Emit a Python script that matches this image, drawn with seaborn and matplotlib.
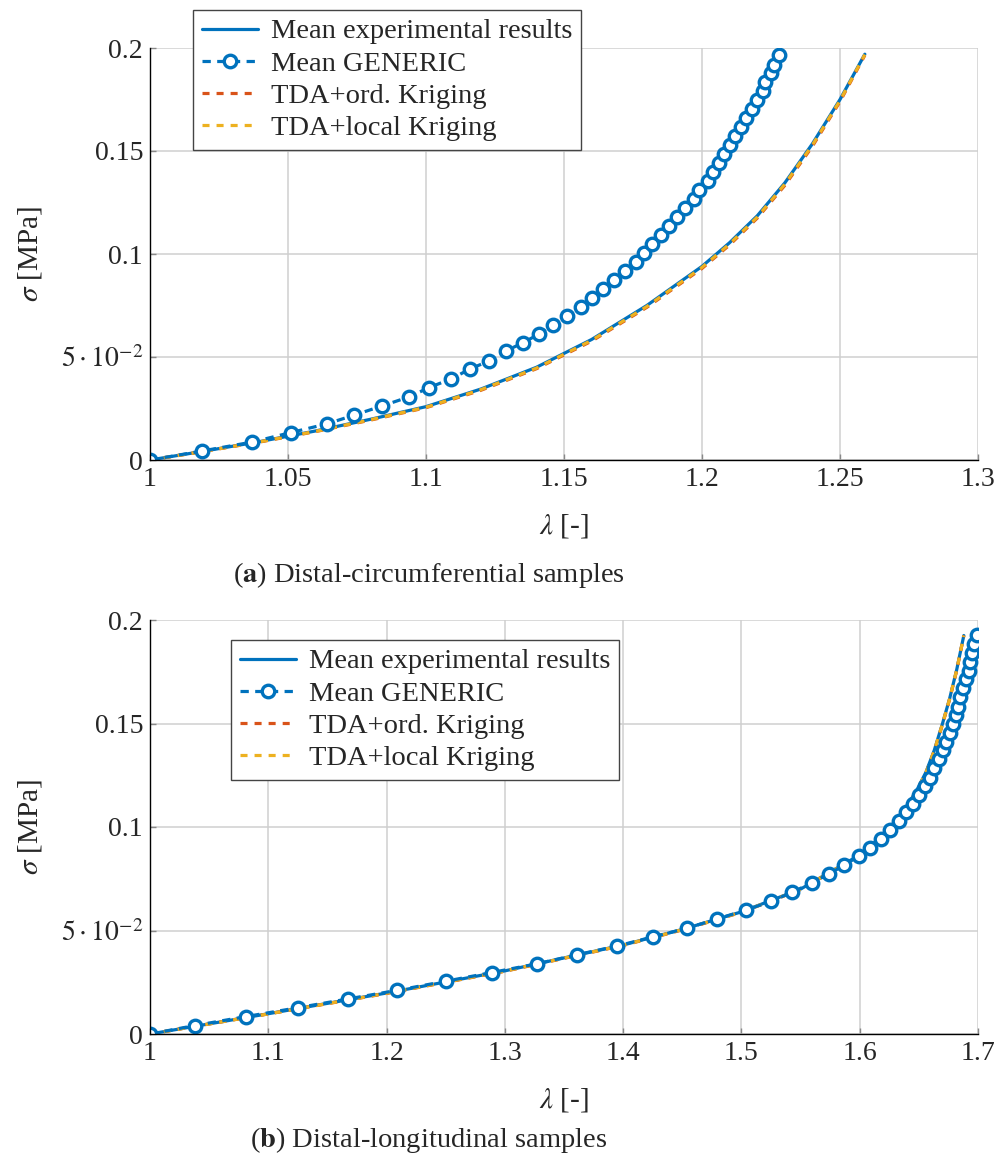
import numpy as np
import pandas as pd
import matplotlib
matplotlib.use("Agg")
import matplotlib.pyplot as plt
import seaborn as sns
from matplotlib.ticker import FixedLocator, FixedFormatter

# ---------------- data ----------------
# (a) Distal-circumferential
a_exp_x = [1.00, 1.02, 1.04, 1.06, 1.08, 1.10, 1.12, 1.14, 1.16, 1.18, 1.20, 1.21, 1.22, 1.23, 1.24, 1.25, 1.259]
a_exp_y = [0.000, 0.0044, 0.0090, 0.0141, 0.0198, 0.0259, 0.0345, 0.0450, 0.0585, 0.0750, 0.0940, 0.1055, 0.1185, 0.1345, 0.1535, 0.1750, 0.1970]
a_ord_x = [1.00, 1.02, 1.04, 1.06, 1.08, 1.10, 1.12, 1.14, 1.16, 1.18, 1.20, 1.21, 1.22, 1.23, 1.24, 1.25, 1.259]
a_ord_y = [0.000, 0.0043, 0.0088, 0.0138, 0.0194, 0.0254, 0.0339, 0.0443, 0.0577, 0.0741, 0.0930, 0.1044, 0.1174, 0.1333, 0.1523, 0.1740, 0.1965]
a_loc_x = [1.00, 1.02, 1.04, 1.06, 1.08, 1.10, 1.12, 1.14, 1.16, 1.18, 1.20, 1.21, 1.22, 1.23, 1.24, 1.25, 1.259]
a_loc_y = [0.000, 0.0043, 0.0089, 0.0139, 0.0196, 0.0256, 0.0342, 0.0446, 0.0581, 0.0745, 0.0935, 0.1049, 0.1179, 0.1339, 0.1529, 0.1745, 0.1968]
a_gen_x = [1.000, 1.019, 1.037, 1.051, 1.064, 1.074, 1.084, 1.094, 1.101, 1.109, 1.116, 1.123,
           1.129, 1.135, 1.141, 1.146, 1.151, 1.156, 1.160, 1.164, 1.168, 1.172, 1.176, 1.179,
           1.182, 1.185, 1.188, 1.191, 1.194, 1.197, 1.199, 1.202, 1.204, 1.206, 1.208, 1.210,
           1.212, 1.214, 1.216, 1.218, 1.220, 1.222, 1.223, 1.225, 1.226, 1.228]
a_gen_y = [0.000, 0.0044, 0.0087, 0.0133, 0.0175, 0.0218, 0.0262, 0.0307, 0.0351, 0.0393, 0.0442, 0.0482,
           0.0530, 0.0568, 0.0612, 0.0655, 0.0699, 0.0741, 0.0786, 0.0830, 0.0874, 0.0917, 0.0961, 0.1005,
           0.1049, 0.1092, 0.1136, 0.1180, 0.1223, 0.1267, 0.1311, 0.1354, 0.1396, 0.1440, 0.1485, 0.1529,
           0.1573, 0.1615, 0.1660, 0.1702, 0.1748, 0.1790, 0.1833, 0.1877, 0.1919, 0.1966]

# (b) Distal-longitudinal
b_exp_x = [1.000, 1.100, 1.200, 1.300, 1.400, 1.450, 1.500, 1.550, 1.600, 1.613, 1.626, 1.638, 1.648, 1.656, 1.663, 1.670, 1.676, 1.682, 1.688]
b_exp_y = [0.000, 0.0098, 0.0198, 0.0305, 0.0430, 0.0505, 0.0590, 0.0700, 0.0865, 0.0928, 0.1000, 0.1085, 0.1175, 0.1265, 0.1370, 0.1500, 0.1620, 0.1760, 0.1925]
b_ord_x = [1.000, 1.100, 1.200, 1.300, 1.400, 1.450, 1.500, 1.550, 1.600, 1.613, 1.626, 1.638, 1.648, 1.656, 1.663, 1.670, 1.676, 1.682, 1.688]
b_ord_y = [0.000, 0.0097, 0.0196, 0.0303, 0.0428, 0.0503, 0.0588, 0.0698, 0.0863, 0.0926, 0.0997, 0.1082, 0.1171, 0.1261, 0.1366, 0.1496, 0.1617, 0.1757, 0.1925]
b_loc_x = [1.000, 1.100, 1.200, 1.300, 1.400, 1.450, 1.500, 1.550, 1.600, 1.613, 1.626, 1.638, 1.648, 1.656, 1.663, 1.670, 1.676, 1.682, 1.688]
b_loc_y = [0.000, 0.0097, 0.0197, 0.0304, 0.0429, 0.0504, 0.0589, 0.0699, 0.0864, 0.0927, 0.0999, 0.1084, 0.1173, 0.1263, 0.1368, 0.1498, 0.1619, 0.1759, 0.1925]
b_gen_x = [1.000, 1.038, 1.081, 1.125, 1.167, 1.209, 1.250, 1.289, 1.327, 1.361, 1.395, 1.425,
           1.454, 1.479, 1.504, 1.525, 1.543, 1.560, 1.574, 1.587, 1.599, 1.609, 1.618, 1.626,
           1.633, 1.639, 1.645, 1.650, 1.655, 1.659, 1.663, 1.667, 1.670, 1.673, 1.676, 1.679,
           1.681, 1.683, 1.685, 1.687, 1.690, 1.692, 1.693, 1.695, 1.697, 1.699]
b_gen_y = [0.000, 0.0041, 0.0084, 0.0127, 0.0169, 0.0211, 0.0255, 0.0297, 0.0339, 0.0383, 0.0425, 0.0469,
           0.0511, 0.0555, 0.0599, 0.0641, 0.0685, 0.0731, 0.0774, 0.0815, 0.0860, 0.0900, 0.0944, 0.0985,
           0.1029, 0.1073, 0.1113, 0.1155, 0.1198, 0.1239, 0.1284, 0.1327, 0.1371, 0.1413, 0.1456, 0.1497,
           0.1540, 0.1582, 0.1626, 0.1671, 0.1715, 0.1755, 0.1798, 0.1840, 0.1884, 0.1929]

labels = ["Mean experimental results", "Mean GENERIC", "TDA+ord. Kriging", "TDA+local Kriging"]
y_ticks = [0, 0.05, 0.1, 0.15, 0.2]
y_ticklabels = ["0", r"$5\cdot10^{-2}$", "0.1", "0.15", "0.2"]
a_xticks = [1, 1.05, 1.1, 1.15, 1.2, 1.25, 1.3]
a_xticklabels = ["1", "1.05", "1.1", "1.15", "1.2", "1.25", "1.3"]
b_xticks = [1, 1.1, 1.2, 1.3, 1.4, 1.5, 1.6, 1.7]
b_xticklabels = ["1", "1.1", "1.2", "1.3", "1.4", "1.5", "1.6", "1.7"]

BLUE = "#0072BD"
ORANGE = "#D95319"
YELLOW = "#EDB120"

# ---------------- style ----------------
sns.set_style("white")
plt.rcParams["font.family"] = ["Liberation Serif", "DejaVu Serif"]
plt.rcParams["mathtext.fontset"] = "stix"
FS = 20
LFS = 20.5

fig = plt.figure(figsize=(9.97, 11.62), dpi=100)
ax1 = fig.add_axes([150/997, 1-460/1162, 828/997, 412/1162])
ax2 = fig.add_axes([150/997, 1-1034/1162, 828/997, 414/1162])


def draw(ax, ex, ey, gx, gy, ox, oy, lx, ly, xt, xtl, xlim, leg_anchor):
    sns.lineplot(x=ex, y=ey, ax=ax, color=BLUE, linewidth=2.3, sort=False, zorder=2)
    sns.lineplot(x=ox, y=oy, ax=ax, color=ORANGE, linewidth=2.3, sort=False, zorder=3)
    ax.lines[-1].set_dashes((2.2, 2.2))
    sns.lineplot(x=lx, y=ly, ax=ax, color=YELLOW, linewidth=2.3, sort=False, zorder=4)
    ax.lines[-1].set_dashes((2.2, 2.2))
    sns.lineplot(x=gx, y=gy, ax=ax, color=BLUE, linewidth=2.3, sort=False, zorder=5,
                 marker="o", markersize=9, markerfacecolor="white",
                 markeredgecolor=BLUE, markeredgewidth=2.4)
    ax.lines[-1].set_dashes((2.6, 2.0))
    l_exp, l_ord, l_loc, l_gen = ax.lines[0], ax.lines[1], ax.lines[2], ax.lines[3]

    ax.set_xlim(*xlim)
    ax.set_ylim(0, 0.2)
    ax.xaxis.set_major_locator(FixedLocator(xt))
    ax.xaxis.set_major_formatter(FixedFormatter(xtl))
    ax.yaxis.set_major_locator(FixedLocator(y_ticks))
    ax.yaxis.set_major_formatter(FixedFormatter(y_ticklabels))
    ax.grid(True, color="#cfcfcf", linewidth=1.1)
    ax.set_axisbelow(True)
    for s in ["top", "right"]:
        ax.spines[s].set_visible(False)
    for s in ["left", "bottom"]:
        ax.spines[s].set_visible(True)
        ax.spines[s].set_color("black")
        ax.spines[s].set_linewidth(1.0)
        ax.spines[s].set_zorder(6)
    ax.tick_params(direction="in", length=4, width=1, color="#888888",
                   labelsize=FS, pad=5, left=True, bottom=True)
    ax.set_xlabel(r"$\lambda$ [-]", fontsize=FS + 1)
    ax.set_ylabel(r"$\sigma$ [MPa]", fontsize=FS + 1)

    leg = ax.legend([l_exp, l_gen, l_ord, l_loc], labels, loc="upper left",
                    bbox_to_anchor=leg_anchor, fontsize=LFS, frameon=True,
                    fancybox=False, framealpha=1, edgecolor="#444444",
                    handlelength=2.0, handletextpad=0.45, borderpad=0.3,
                    labelspacing=0.22, borderaxespad=0)
    leg.get_frame().set_linewidth(1.0)
    leg.set_zorder(10)
    leg.set_clip_on(False)


draw(ax1, a_exp_x, a_exp_y, a_gen_x, a_gen_y, a_ord_x, a_ord_y, a_loc_x, a_loc_y,
     a_xticks, a_xticklabels, (1, 1.3), (43/828, 450/412))
draw(ax2, b_exp_x, b_exp_y, b_gen_x, b_gen_y, b_ord_x, b_ord_y, b_loc_x, b_loc_y,
     b_xticks, b_xticklabels, (1, 1.7), (81/828, 394/414))

for ax in (ax1, ax2):
    ax.yaxis.set_label_coords(-0.128, 0.5)
    ax.xaxis.set_label_coords(0.5, -0.125)

fig.text(0.43, 1-575/1162, r"($\mathbf{a}$) Distal-circumferential samples", ha="center", va="center", fontsize=20.5)
fig.text(0.43, 1-1140/1162, r"($\mathbf{b}$) Distal-longitudinal samples", ha="center", va="center", fontsize=20.5)

fig.savefig("out.png", dpi=100)
